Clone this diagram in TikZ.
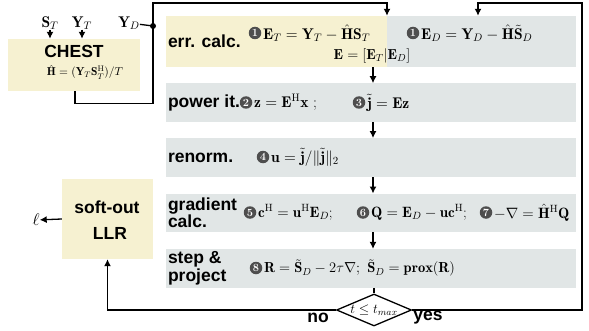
\RequirePackage{fix-cm}
\documentclass[tikz,border=0pt]{standalone}
\usepackage{amsmath,amssymb}
\usepackage{fontspec}
\newfontfamily\hvfont{Liberation Sans}
\usetikzlibrary{arrows.meta,shapes.geometric,positioning}
\definecolor{chestbg}{RGB}{246,241,209}
\definecolor{stagebg}{RGB}{225,230,230}
\definecolor{numbg}{RGB}{78,78,78}

\begin{document}
\begin{tikzpicture}[x=1pt,y=1pt,
    stagebox/.style={fill=stagebg,minimum width=410pt,minimum height=38.5pt,inner sep=0pt},
    lbl/.style={font=\hvfont\bfseries\fontsize{17.5}{14}\selectfont,align=left,inner sep=0pt},
    frm/.style={font=\fontsize{15.5}{17}\selectfont,inner sep=0pt,anchor=west},
    numc/.style={circle,fill=numbg,text=white,inner sep=0pt,minimum size=12.5pt,
      font=\bfseries\fontsize{11}{11}\selectfont},
    flow/.style={line width=1.3pt,-{Latex[length=7pt,width=7pt]}},
    wire/.style={line width=1.3pt}]
  \useasboundingbox (0,0) rectangle (589,330);
  % stages
  \node[stagebox,minimum height=51pt] (err) at (371,288.5) {};
  \fill[chestbg] (err.north west) rectangle ([xshift=221pt]err.south west);
  \node[stagebox,below=16pt of err] (power) {};
  \node[stagebox,below=16pt of power] (renorm) {};
  \node[stagebox,below=16.5pt of renorm] (grad) {};
  \node[stagebox,below=16.5pt of grad] (stepproj) {};
  \node[lbl,anchor=west] at ([xshift=2pt]err.west) {err. calc.};
  \node[lbl,anchor=west] at ([xshift=2pt]power.west) {power it.};
  \node[lbl,anchor=west] at ([xshift=2pt]renorm.west) {renorm.};
  \node[lbl,anchor=west] at ([xshift=2pt]grad.west) {gradient\\calc.};
  \node[lbl,anchor=west] at ([xshift=2pt]stepproj.west) {step \&\\project};
  % numbered formulas
  \node[numc] (n1a) at (255,297) {1};
  \node[frm,right=1.5pt of n1a] (fT) {$\mathbf{E}_T=\mathbf{Y}_T-\hat{\mathbf{H}}\mathbf{S}_T$};
  \node[numc] (n1b) at (413,297) {1};
  \node[frm,right=1.5pt of n1b] (fD) {$\mathbf{E}_D=\mathbf{Y}_D-\hat{\mathbf{H}}\tilde{\mathbf{S}}_D$};
  \node[frm,anchor=center,font=\fontsize{14.5}{16}\selectfont] (fE) at (372,274) {$\mathbf{E}=[\mathbf{E}_T|\mathbf{E}_D]$};
  \node[numc] (n2) at (246,227.5) {2};
  \node[frm,right=1.5pt of n2] (fz) {$\mathbf{z}=\mathbf{E}^{\mathrm{H}}\mathbf{x}$ ;};
  \node[numc] (n3) at (359,227.5) {3};
  \node[frm,right=1.5pt of n3] (fj) {$\tilde{\mathbf{j}}=\mathbf{E}\mathbf{z}$};
  \node[numc] (n4) at (263,173) {4};
  \node[frm,right=1.5pt of n4] (fu) {$\mathbf{u}=\tilde{\mathbf{j}}/\|\tilde{\mathbf{j}}\|_2$};
  \node[numc] (n5) at (250,117.5) {5};
  \node[frm,right=1.5pt of n5,font=\fontsize{15}{17}\selectfont] (fc) {$\mathbf{c}^{\mathrm{H}}=\mathbf{u}^{\mathrm{H}}\mathbf{E}_D$;};
  \node[numc] (n6) at (363,117.5) {6};
  \node[frm,right=1.5pt of n6,font=\fontsize{15}{17}\selectfont] (fQ) {$\mathbf{Q}=\mathbf{E}_D-\mathbf{u}\mathbf{c}^{\mathrm{H}}$;};
  \node[numc] (n7) at (486,117.5) {7};
  \node[frm,right=1.5pt of n7,font=\fontsize{15}{17}\selectfont] (fn) {$-\nabla=\hat{\mathbf{H}}^{\mathrm{H}}\mathbf{Q}$};
  \node[numc] (n8) at (256,62) {8};
  \node[frm,right=1.5pt of n8,font=\fontsize{14.5}{17}\selectfont] (fS) {$\mathbf{R}=\tilde{\mathbf{S}}_D-2\tau\nabla$;\hspace{0.5em}$\tilde{\mathbf{S}}_D=\mathbf{prox}(\mathbf{R})$};
  % decision
  \node[diamond,draw,line width=1.3pt,fill=white,minimum width=75pt,minimum height=32pt,
    inner sep=0pt] (cond) at (374,20) {};
  \node[frm,anchor=center,font=\fontsize{13.5}{16}\selectfont] (condtxt) at (cond.center) {$t\le t_{max}$};
  \node[lbl,anchor=center] (no) at (318,12) {no};
  \node[lbl,anchor=center] (yes) at (428,12) {yes};
  % side blocks
  \node[fill=chestbg,minimum width=132pt,minimum height=52pt,inner sep=0pt] (chest) at (74,265) {};
  \node[lbl,anchor=base] (chesttxt) at (74,272) {CHEST};
  \node[frm,anchor=base,font=\fontsize{11.5}{13}\selectfont] (chestfrm) at (85,254) {$\hat{\mathbf{H}}=(\mathbf{Y}_T\mathbf{S}_T^{\mathrm{H}})/T$};
  \node[fill=chestbg,minimum width=91pt,minimum height=80pt,inner sep=0pt] (soft) at (107.5,111) {};
  \node[lbl,anchor=base] (softtxt) at (107,117) {soft-out};
  \node[lbl,anchor=base] (llrtxt) at (110,91) {LLR};
  \node[frm,anchor=center,font=\fontsize{17}{19}\selectfont] (ell) at (36,110) {$\ell$};
  \node[frm,anchor=center] (sT) at (50,307) {$\mathbf{S}_T$};
  \node[frm,anchor=center] (yT) at (82,307) {$\mathbf{Y}_T$};
  \node[frm,anchor=center] (yD) at (129,307) {$\mathbf{Y}_D$};
  \coordinate (dot) at (153,304);
  % connectors
  \draw[flow] (sT) -- (sT |- chest.north);
  \draw[flow] (yT) -- (yT |- chest.north);
  \draw[wire] (yD) -- (dot);
  \fill (dot) circle (3pt);
  \draw[flow] ([xshift=1pt]chest.south) -- ++(0,-12) -| (dot) |- (387,327) -- ([xshift=16pt]err.north);
  \foreach \A/\B in {err/power,power/renorm,renorm/grad,grad/stepproj}
    \draw[flow] ([xshift=2pt]\A.south) -- ([xshift=2pt]\B.north);
  \draw[wire] ([xshift=3pt]stepproj.south) -- (cond.north);
  \draw[flow] (cond.east) -| (582,327) -| ([xshift=107pt]err.north);
  \draw[flow] (cond.west) -| (soft.south);
  \draw[flow] (soft.west) -- (ell);
\end{tikzpicture}
\end{document}
